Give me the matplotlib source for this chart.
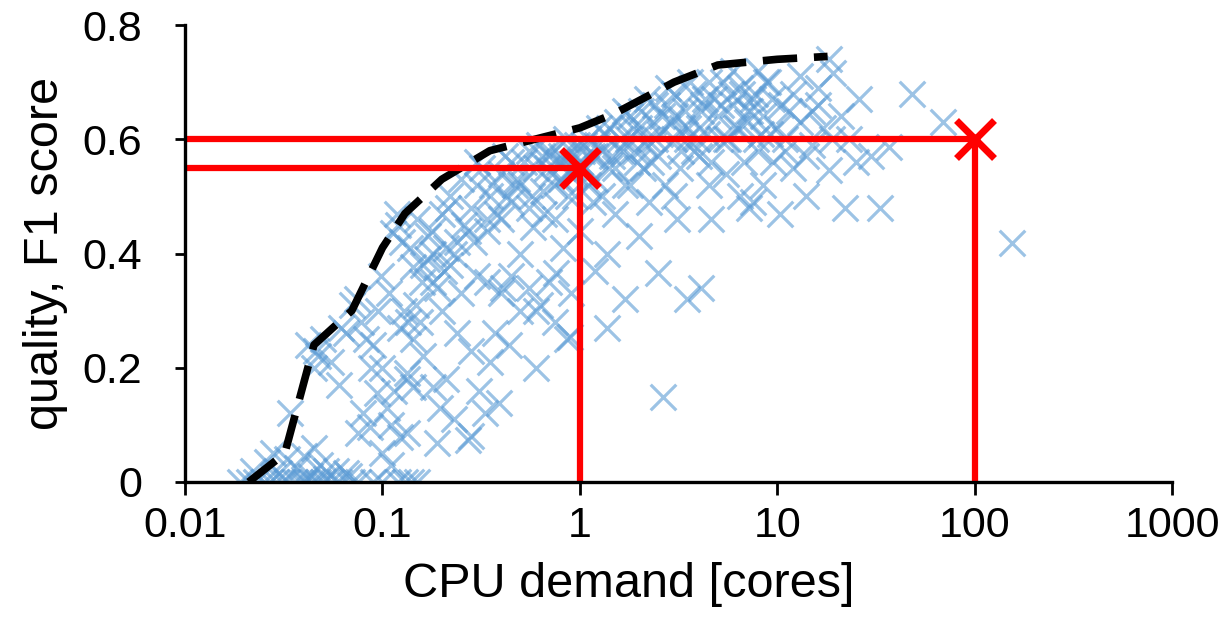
import numpy as np
import matplotlib.pyplot as plt

# scatter of configurations: CPU demand [cores] vs F1 score
cpu = [
    # row at zero
    0.019, 0.021, 0.023, 0.025, 0.027, 0.029, 0.031, 0.033, 0.036, 0.038, 0.041, 0.044,
    0.047, 0.05, 0.055, 0.06, 0.07, 0.075, 0.09, 0.1, 0.12, 0.13, 0.14, 0.15,
    # blob just above zero
    0.022, 0.026, 0.03, 0.033, 0.037, 0.04, 0.043, 0.048, 0.052, 0.065, 0.028, 0.045,
    # lower left diagonal
    0.034, 0.045, 0.047, 0.042, 0.05, 0.055, 0.06, 0.065, 0.074, 0.083, 0.09, 0.094,
    0.08, 0.086, 0.105, 0.123, 0.075, 0.1, 0.11, 0.133, 0.143, 0.123, 0.135, 0.113,
    0.125, 0.143, 0.07, 0.1, 0.11, 0.115, 0.095,
    # middle
    0.143, 0.133, 0.18, 0.21, 0.195, 0.133, 0.19, 0.27, 0.39, 0.31, 0.35, 0.44,
    0.37, 0.28, 0.24, 0.155, 0.2, 0.5, 0.63, 0.86, 0.16, 0.25, 0.3, 0.22,
    0.18, 0.4, 0.45, 0.55, 0.7, 0.9, 0.28, 0.33, 0.23, 0.6, 0.75, 0.5,
    # right middle
    2.63, 4.1, 2.5, 1.37, 1.37, 0.89, 1.7, 3.5, 0.6, 0.41, 0.34, 0.76,
    0.82, 0.58, 0.34, 3.1, 4.6, 2.25, 1.16, 0.45, 7.5, 1.2, 2.0, 1.0, 1.5,
    # left part of upper band
    0.12, 0.15, 0.17, 0.2, 0.22, 0.25, 0.28, 0.3, 0.18, 0.24, 0.35, 0.4,
    0.45, 0.38, 0.5, 0.32, 0.27, 0.16, 0.21, 0.55, 0.6, 0.65, 0.7, 0.8,
    0.75, 0.9, 0.95, 0.85, 0.55, 0.42, 0.48, 0.62, 0.68, 0.78, 0.88, 0.3,
    # upper band
    1.0, 1.1, 1.2, 1.3, 1.4, 1.5, 1.6, 1.7, 1.8, 1.9, 2.0, 2.1,
    2.2, 2.4, 2.5, 2.6, 2.8, 3.0, 3.2, 3.4, 3.6, 3.8, 4.0, 4.3,
    4.6, 5.0, 5.3, 5.6, 6.0, 6.5, 7.0, 7.5, 8.0, 8.5, 9.0, 10,
    10.5, 11, 12, 13, 14, 15, 16, 17, 19, 21, 23, 26,
    19.2, 18.4, 18.4, 48, 22, 33, 37, 69, 102, 155, 10.3, 7.2,
    6.5, 8.5, 12, 14, 4.5, 5.5, 3.0, 2.7, 1.3, 1.7, 9.5, 6.8,
    4.0, 2.3, 1.1, 1.4, 3.5, 5.5, 7.8, 11, 15, 30, 25, 13,
    8, 6, 4.5, 3, 1.2, 1.6, 2.2, 2.9, 3.9, 5.2, 6.2, 7.3,
    9.2, 1.05, 1.25, 1.8, 2.4, 3.3, 4.2, 6.6, 8.8, 11.5,
    # extra density
    0.04, 0.046, 0.052, 0.058, 0.062, 0.068, 0.078, 0.088, 0.098, 0.108, 0.118, 0.128,
    0.138, 0.148, 0.158, 0.168, 0.178, 0.19, 0.205, 0.215, 0.23, 0.26, 0.29, 0.34,
    0.36, 0.4, 0.43, 0.47, 0.52, 0.57, 0.64, 0.72, 0.8, 0.92, 0.97, 0.66,
    0.7, 0.74, 0.83, 0.87, 0.93, 1.02, 1.08, 1.15, 1.22, 1.33, 1.45, 1.55,
    1.65, 1.75, 1.85, 1.95, 2.05, 2.15, 2.35, 2.55, 2.75, 3.05, 3.25, 3.55,
    3.75, 4.1, 4.4, 4.8, 5.1, 5.8, 6.3, 7.1, 7.7, 8.3, 9.4, 16,
]
f1 = [
    0, 0, 0, 0, 0, 0, 0, 0, 0, 0, 0, 0,
    0, 0, 0, 0, 0, 0, 0, 0, 0, 0, 0, 0,
    0.02, 0.035, 0.015, 0.04, 0.025, 0.045, 0.01, 0.03, 0.02, 0.015, 0.05, 0.06,
    0.12, 0.2, 0.22, 0.24, 0.25, 0.21, 0.17, 0.26, 0.32, 0.25, 0.24, 0.156,
    0.12, 0.096, 0.13, 0.079, 0.085, 0.05, 0.03, 0.19, 0.166, 0.27, 0.28, 0.436,
    0.42, 0.376, 0.31, 0.2, 0.1, 0.16, 0.3,
    0.25, 0.18, 0.166, 0.18, 0.13, 0.086, 0.068, 0.074, 0.138, 0.16, 0.21, 0.24,
    0.26, 0.23, 0.26, 0.28, 0.3, 0.3, 0.31, 0.25, 0.22, 0.33, 0.36, 0.38,
    0.35, 0.33, 0.36, 0.34, 0.35, 0.33, 0.08, 0.12, 0.11, 0.2, 0.28, 0.4,
    0.149, 0.34, 0.366, 0.4, 0.27, 0.254, 0.32, 0.32, 0.3, 0.34, 0.35, 0.366,
    0.41, 0.446, 0.46, 0.46, 0.46, 0.49, 0.49, 0.49, 0.49, 0.37, 0.43, 0.44, 0.47,
    0.45, 0.46, 0.43, 0.47, 0.5, 0.53, 0.48, 0.52, 0.4, 0.42, 0.5, 0.54,
    0.56, 0.47, 0.52, 0.55, 0.44, 0.38, 0.41, 0.48, 0.55, 0.51, 0.57, 0.53,
    0.46, 0.58, 0.5, 0.6, 0.58, 0.57, 0.53, 0.59, 0.55, 0.56, 0.54, 0.56,
    0.56, 0.6, 0.53, 0.58, 0.62, 0.55, 0.6, 0.65, 0.52, 0.58, 0.62, 0.55,
    0.67, 0.6, 0.57, 0.64, 0.69, 0.6, 0.55, 0.65, 0.7, 0.58, 0.62, 0.67,
    0.56, 0.64, 0.7, 0.6, 0.66, 0.69, 0.63, 0.67, 0.58, 0.64, 0.7, 0.62,
    0.66, 0.6, 0.68, 0.63, 0.57, 0.65, 0.69, 0.62, 0.6, 0.64, 0.6, 0.67,
    0.716, 0.74, 0.546, 0.68, 0.48, 0.48, 0.587, 0.63, 0.6, 0.418, 0.47, 0.48,
    0.5, 0.52, 0.55, 0.5, 0.52, 0.54, 0.5, 0.52, 0.5, 0.52, 0.56, 0.56,
    0.57, 0.56, 0.52, 0.55, 0.6, 0.6, 0.6, 0.58, 0.59, 0.57, 0.56, 0.71,
    0.72, 0.72, 0.7, 0.68, 0.57, 0.58, 0.6, 0.63, 0.6, 0.66, 0.62, 0.65,
    0.61, 0.59, 0.62, 0.64, 0.66, 0.62, 0.66, 0.68, 0.7, 0.65,
    0.0, 0.23, 0.005, 0.02, 0.27, 0.01, 0.28, 0.2, 0.36, 0.33, 0.47, 0.3,
    0.41, 0.31, 0.35, 0.39, 0.44, 0.34, 0.37, 0.48, 0.4, 0.45, 0.42, 0.44,
    0.52, 0.46, 0.5, 0.52, 0.56, 0.5, 0.57, 0.54, 0.57, 0.55, 0.59, 0.47,
    0.58, 0.52, 0.56, 0.5, 0.54, 0.58, 0.55, 0.57, 0.59, 0.61, 0.57, 0.63,
    0.58, 0.6, 0.62, 0.56, 0.65, 0.59, 0.63, 0.61, 0.66, 0.64, 0.58, 0.62,
    0.68, 0.65, 0.61, 0.67, 0.6, 0.68, 0.62, 0.65, 0.68, 0.61, 0.67, 0.66,
]

# pareto frontier (dashed)
front_cpu = [0.021, 0.032, 0.045, 0.07, 0.1, 0.13, 0.2, 0.35, 1.0, 1.5, 3.0, 5.0, 10, 18]
front_f1 = [0.0, 0.05, 0.24, 0.30, 0.41, 0.47, 0.53, 0.58, 0.62, 0.645, 0.70, 0.73, 0.74, 0.745]

# highlighted choices
pick_cpu = [1, 100]
pick_f1 = [0.55, 0.6]

plt.rcParams['font.family'] = ['Liberation Sans', 'DejaVu Sans']

fig = plt.figure(figsize=(12.28, 6.18), dpi=100)
ax = fig.add_axes([0.1507, 0.2201, 0.8037, 0.7394])

ax.scatter(cpu, f1, marker='x', s=340, color='#5b9bd5', alpha=0.6, linewidths=2.3, zorder=2)
ax.plot(front_cpu, front_f1, color='black', linewidth=5.5, dashes=(4.5, 2.2), zorder=3)

for xc, yc in zip(pick_cpu, pick_f1):
    ax.plot([xc, xc], [0, yc], color='red', linewidth=4.5, zorder=4, solid_capstyle='butt')
    ax.plot([0.01, xc], [yc, yc], color='red', linewidth=4.5, zorder=4, solid_capstyle='butt')
ax.plot(pick_cpu, pick_f1, 'x', color='red', markersize=27, markeredgewidth=5, zorder=5)

ax.set_xscale('log')
ax.set_xlim(0.01, 1000)
ax.set_ylim(0, 0.8)
ax.set_xticks([0.01, 0.1, 1, 10, 100, 1000])
ax.set_xticklabels(['0.01', '0.1', '1', '10', '100', '1000'])
ax.minorticks_off()
ax.set_yticks([0, 0.2, 0.4, 0.6, 0.8])
ax.set_yticklabels(['0', '0.2', '0.4', '0.6', '0.8'])

for s in ['top', 'right']:
    ax.spines[s].set_visible(False)
for s in ['left', 'bottom']:
    ax.spines[s].set_linewidth(2.4)
    ax.spines[s].set_zorder(6)
ax.tick_params(axis='x', labelsize=31, width=2, length=9, direction='out', pad=8)
ax.tick_params(axis='y', labelsize=31, width=2, length=7, direction='out', pad=24)

ax.set_xlabel('CPU demand [cores]', fontsize=35)
ax.xaxis.set_label_coords(0.45, -0.175)
ax.set_ylabel('quality, F1 score', fontsize=35, labelpad=10)

plt.savefig('out.png', dpi=100)
